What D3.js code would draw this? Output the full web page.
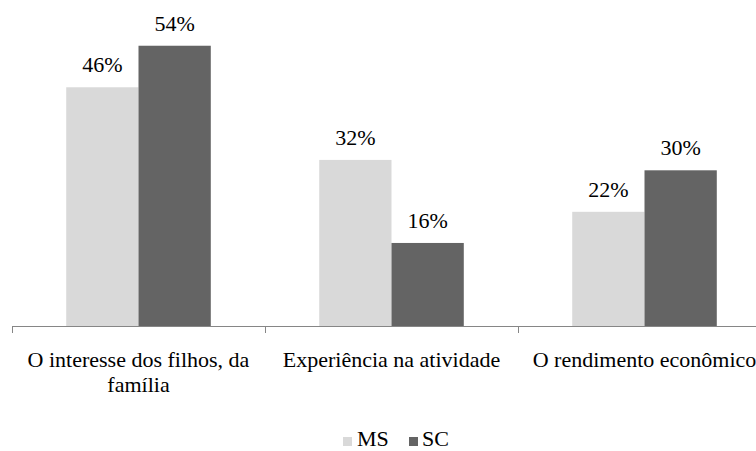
<!DOCTYPE html>
<html>
<head>
<meta charset="utf-8">
<script src="https://cdn.jsdelivr.net/npm/d3@7"></script>
</head>
<body style="margin:0;background:#fff">
<script>
const categories = ["O interesse dos filhos, da família", "Experiência na atividade", "O rendimento econômico"];
const categoryLines = [["O interesse dos filhos, da", "família"], ["Experiência na atividade"], ["O rendimento econômico"]];
const seriesNames = ["MS", "SC"];
const msValues = [46, 32, 22];
const scValues = [54, 16, 30];
const colors = {MS: "#d9d9d9", SC: "#646464"};

const width = 756;
const height = 451;
const baseline = 326;
const fontFamily = "'Liberation Serif', monospace";

const rows = categories.map((c, i) => ({category: c, MS: msValues[i], SC: scValues[i]}));

const x = d3.scaleBand()
  .domain(categories)
  .range([12, 771])
  .paddingInner(0)
  .paddingOuter(0);

const xInner = d3.scaleBand()
  .domain(seriesNames)
  .range([0, x.bandwidth()])
  .paddingInner(0)
  .paddingOuter(0.75);

const y = d3.scaleLinear()
  .domain([0, 60])
  .range([baseline, 14.6]);

const svg = d3.select("body").append("svg")
  .attr("width", width)
  .attr("height", height);

// bars
const groups = svg.selectAll("g.group")
  .data(rows)
  .join("g")
    .attr("class", "group")
    .attr("transform", d => `translate(${x(d.category)},0)`);

groups.selectAll("rect")
  .data(d => seriesNames.map(s => ({series: s, value: d[s]})))
  .join("rect")
    .attr("x", d => xInner(d.series))
    .attr("y", d => y(d.value))
    .attr("width", xInner.bandwidth())
    .attr("height", d => baseline - y(d.value))
    .attr("fill", d => colors[d.series]);

// value labels
groups.selectAll("text.value")
  .data(d => seriesNames.map(s => ({series: s, value: d[s]})))
  .join("text")
    .attr("class", "value")
    .attr("x", d => xInner(d.series) + xInner.bandwidth() / 2)
    .attr("y", d => y(d.value) - 15)
    .attr("text-anchor", "middle")
    .attr("font-size", 22)
    .attr("font-family", fontFamily)
    .attr("fill", "#000")
    .text(d => d.value + "%");

// x axis line and boundary ticks
svg.append("line")
  .attr("x1", x.range()[0])
  .attr("x2", x.range()[1])
  .attr("y1", baseline + 0.5)
  .attr("y2", baseline + 0.5)
  .attr("stroke", "#868686");

const bounds = categories.map(c => x(c)).concat([x.range()[1]]);
svg.selectAll("line.bound")
  .data(bounds)
  .join("line")
    .attr("class", "bound")
    .attr("x1", d => Math.round(d) + 0.5)
    .attr("x2", d => Math.round(d) + 0.5)
    .attr("y1", baseline)
    .attr("y2", baseline + 7)
    .attr("stroke", "#868686");

// category labels
svg.append("g").selectAll("text")
  .data(categories)
  .join("text")
    .attr("x", d => x(d) + x.bandwidth() / 2)
    .attr("y", 367)
    .attr("text-anchor", "middle")
    .attr("font-size", 22)
    .attr("font-family", fontFamily)
    .attr("fill", "#000")
  .selectAll("tspan")
  .data((d, i) => categoryLines[i].map(l => ({cat: d, line: l})))
  .join("tspan")
    .attr("x", d => x(d.cat) + x.bandwidth() / 2)
    .attr("dy", (d, i) => i === 0 ? 0 : 25)
    .text(d => d.line);

// legend
const legendItems = [
  {name: "MS", sx: 343, tx: 357},
  {name: "SC", sx: 409, tx: 422}
];
const legend = svg.append("g");
legend.selectAll("rect")
  .data(legendItems)
  .join("rect")
    .attr("x", d => d.sx)
    .attr("y", 437)
    .attr("width", 9)
    .attr("height", 9)
    .attr("fill", d => colors[d.name]);
legend.selectAll("text")
  .data(legendItems)
  .join("text")
    .attr("x", d => d.tx)
    .attr("y", 446)
    .attr("font-size", 22)
    .attr("font-family", fontFamily)
    .attr("fill", "#000")
    .text(d => d.name);
</script>
</body>
</html>
